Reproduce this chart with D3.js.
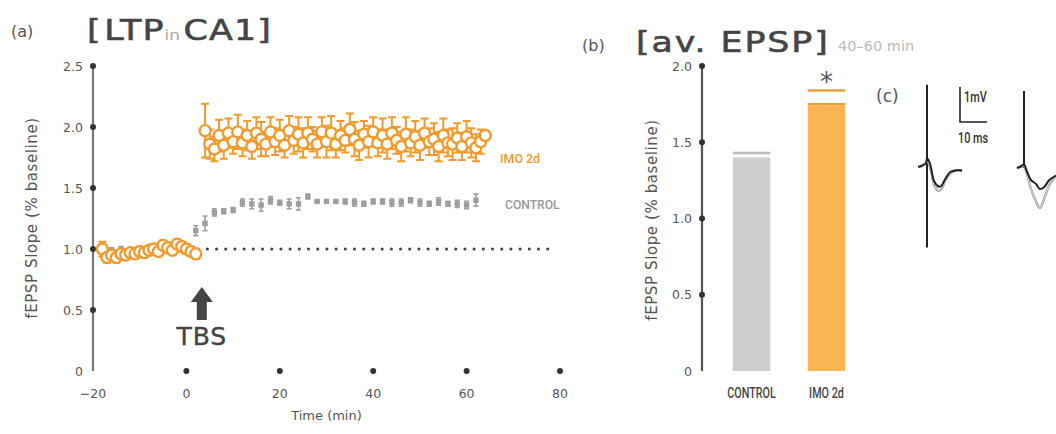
<!DOCTYPE html>
<html lang="en">
<head>
<meta charset="UTF-8">
<title>LTP in CA1</title>
<script src="https://d3js.org/d3.v7.min.js"></script>
<style>
  body { margin: 0; background: #fff; }
  svg { display: block; font-family: "DejaVu Sans", sans-serif; }
  .tick-label { font-size: 12.5px; fill: #555; }
  .narrow { font-family: "Roboto", "DejaVu Sans", sans-serif; font-weight: 500; }
</style>
</head>
<body>
<svg width="1056" height="434"></svg>
<script>
// ---- panel (a) data: time course ----
const imoBaseTime = d3.range(-18, 3);
const imoBaseVal = [1.0, 0.93, 0.95, 0.93, 0.96, 0.95, 0.97, 0.96, 0.98, 0.97, 0.99, 1.00, 0.98, 1.03, 1.01, 0.99, 1.04, 1.02, 1.00, 0.98, 0.96];
const imoBaseErr = [0.06, 0.04, 0.03, 0.04, 0.03, 0.03, 0.03, 0.04, 0.03, 0.03, 0.03, 0.04, 0.03, 0.04, 0.03, 0.03, 0.04, 0.03, 0.04, 0.03, 0.04];

const imoPostTime = d3.range(4, 65);
const imoPostVal = [1.97, 1.86, 1.82, 1.93, 1.85, 1.95, 1.88, 1.96, 1.87, 1.93, 1.84, 1.95, 1.90, 1.86, 1.96, 1.88,
  1.93, 1.85, 1.97, 1.89, 1.94, 1.87, 1.95, 1.90, 1.86, 1.96, 1.88, 1.95, 1.86, 1.93, 1.89, 1.98, 1.90, 1.85, 1.94,
  1.88, 1.96, 1.87, 1.93, 1.86, 1.95, 1.89, 1.84, 1.94, 1.87, 1.92, 1.85, 1.95, 1.88, 1.90, 1.84, 1.93, 1.87, 1.86,
  1.91, 1.84, 1.92, 1.87, 1.83, 1.88, 1.93];
const imoPostErr = [0.22, 0.12, 0.10, 0.13, 0.11, 0.12, 0.10, 0.14, 0.11, 0.12, 0.10, 0.13, 0.14, 0.10, 0.12, 0.11,
  0.13, 0.10, 0.12, 0.11, 0.14, 0.12, 0.13, 0.10, 0.11, 0.12, 0.13, 0.14, 0.11, 0.12, 0.10, 0.13, 0.14, 0.12, 0.11,
  0.13, 0.12, 0.11, 0.14, 0.12, 0.13, 0.11, 0.12, 0.14, 0.11, 0.13, 0.12, 0.12, 0.11, 0.13, 0.12, 0.14, 0.11, 0.13,
  0.12, 0.11, 0.13, 0.12, 0.11, 0.10, 0.0];

const ctlBaseTime = d3.range(-18, 1, 2);
const ctlBaseVal = [1.01, 0.99, 1.00, 0.98, 1.00, 1.01, 0.99, 1.01, 1.00, 1.00];
const ctlPostTime = d3.range(2, 63, 2);
const ctlPostVal = [1.15, 1.21, 1.30, 1.31, 1.32, 1.38, 1.37, 1.36, 1.40, 1.38, 1.37, 1.37, 1.43, 1.39, 1.39, 1.39,
  1.39, 1.38, 1.37, 1.39, 1.39, 1.38, 1.38, 1.40, 1.38, 1.37, 1.39, 1.37, 1.37, 1.36, 1.40];
const ctlPostErr = [0.04, 0.06, 0.03, 0.02, 0.02, 0.03, 0.04, 0.05, 0.03, 0.02, 0.04, 0.05, 0.02, 0.01, 0.01, 0.01,
  0.02, 0.03, 0.02, 0.02, 0.02, 0.03, 0.03, 0.02, 0.03, 0.02, 0.03, 0.02, 0.03, 0.03, 0.05];

const xTicksA = [-20, 0, 20, 40, 60, 80];
const yTicksA = [0, 0.5, 1.0, 1.5, 2.0, 2.5];

// ---- panel (b) data: average 40-60 min ----
const barGroups = ["CONTROL", "IMO 2d"];
const barValues = [1.40, 1.74];
const barErr = [0.03, 0.01];
const yTicksB = [0, 0.5, 1.0, 1.5, 2.0];
const sigLevel = 1.84;

// ---- panel (c) data: example traces (ms, mV) ----
const tr1a = [[-3.3, 0], [-1.9, 0.04], [-0.4, 0.1], [0, 0.26], [1.1, 0.1], [2.6, -0.4], [4.1, -0.55], [5.2, -0.55], [6.7, -0.35], [8.5, -0.15], [10.4, -0.1], [13, -0.1]];
const tr1b = [[-3.3, 0], [-1.9, 0.02], [0, 0.15], [1.1, 0.0], [2.6, -0.5], [4.1, -0.68], [5.2, -0.65], [6.7, -0.4], [8.5, -0.2], [10.4, -0.1], [13, -0.1]];
const tr2a = [[-2.6, 0], [-1.1, 0.05], [0, 0.1], [1.1, -0.1], [2.6, -0.35], [4.4, -0.45], [5.9, -0.6], [7.4, -0.55], [9.3, -0.35], [11.1, -0.25], [12.6, -0.2]];
const tr2b = [[-2.6, 0], [-1.1, 0.03], [0, 0.05], [1.1, -0.2], [2.6, -0.6], [4.4, -0.95], [5.9, -1.15], [7.4, -0.9], [9.3, -0.5], [11.1, -0.3], [12.6, -0.2]];
const artifact1 = [2.35, -2.3];
const artifact2 = [2.2, 0];

const orange = "#f39a2c";
const gray = "#9e9e9e";
const dark = "#454545";

const svg = d3.select("svg");

// ================= panel (a) =================
const x = d3.scaleLinear().domain([-20, 80]).range([93, 560]);
const y = d3.scaleLinear().domain([0, 2.5]).range([371, 66]);

svg.append("text").attr("x", 11).attr("y", 37).attr("font-size", 16).attr("fill", "#555").text("(a)");
const ta = svg.append("text").attr("transform", "translate(87,40) scale(1.2,1)").attr("font-size", 29)
  .attr("letter-spacing", 1).attr("stroke", dark).attr("stroke-width", 0.6).attr("fill", dark);
ta.append("tspan").text("[");
ta.append("tspan").attr("dx", 2).text("LTP");
ta.append("tspan").attr("font-size", 14).attr("letter-spacing", 0).attr("stroke", "none").attr("fill", "#aaa").text("in");
ta.append("tspan").attr("dx", 3).text("CA1]");

// y axis
svg.append("line").attr("x1", x(-20)).attr("x2", x(-20)).attr("y1", y(2.5)).attr("y2", y(0))
  .attr("stroke", "#777").attr("stroke-width", 2.2);
svg.selectAll(".ytA").data(yTicksA.filter(d => d > 0)).enter().append("circle")
  .attr("cx", x(-20)).attr("cy", d => y(d)).attr("r", 3).attr("fill", "#333");
svg.selectAll(".ylA").data(yTicksA).enter().append("text")
  .attr("class", "tick-label").attr("x", x(-20) - 10).attr("y", d => y(d) + 4.5)
  .attr("text-anchor", "end").text(d => d === 0 ? "0" : d.toFixed(1));

// x "axis": dots only
svg.selectAll(".xtA").data(xTicksA.filter(d => d > -20)).enter().append("circle")
  .attr("cx", d => x(d)).attr("cy", y(0)).attr("r", 3).attr("fill", "#333");
svg.selectAll(".xlA").data(xTicksA).enter().append("text")
  .attr("class", "tick-label").attr("x", d => x(d)).attr("y", 398)
  .attr("text-anchor", "middle").attr("font-size", 14).text(d => d < 0 ? "\u2212" + Math.abs(d) : d);
svg.append("text").attr("x", x(30)).attr("y", 420)
  .attr("text-anchor", "middle").attr("font-size", 13).attr("fill", "#555").text("Time (min)");

svg.append("text").attr("transform", "translate(37,218) rotate(-90)")
  .attr("text-anchor", "middle").attr("font-size", 15).attr("letter-spacing", 0.6).attr("fill", "#555")
  .text("fEPSP Slope (% baseline)");

// dotted 1.0 reference line
svg.append("line").attr("x1", x(2.5)).attr("x2", x(78)).attr("y1", y(1)).attr("y2", y(1))
  .attr("stroke", "#444").attr("stroke-width", 3).attr("stroke-linecap", "round")
  .attr("stroke-dasharray", "0.1,9.1");

// control series (squares with error bars)
const ctl = ctlBaseTime.map((t, i) => ({ t: t, v: ctlBaseVal[i], e: 0.02 }))
  .concat(ctlPostTime.map((t, i) => ({ t: t, v: ctlPostVal[i], e: ctlPostErr[i] })));
const gCtl = svg.append("g");
gCtl.selectAll("path.err").data(ctl).enter().append("path")
  .attr("d", d => `M${x(d.t) - 2.5},${y(d.v + d.e)}H${x(d.t) + 2.5}M${x(d.t)},${y(d.v + d.e)}V${y(d.v - d.e)}M${x(d.t) - 2.5},${y(d.v - d.e)}H${x(d.t) + 2.5}`)
  .attr("stroke", gray).attr("stroke-width", 1.6).attr("fill", "none");
gCtl.selectAll("rect").data(ctl).enter().append("rect")
  .attr("x", d => x(d.t) - 2.7).attr("y", d => y(d.v) - 2.7).attr("width", 5.4).attr("height", 5.4)
  .attr("fill", gray);

// IMO series (open circles with error bars)
const imo = imoBaseTime.map((t, i) => ({ t: t, v: imoBaseVal[i], e: imoBaseErr[i] }))
  .concat(imoPostTime.map((t, i) => ({ t: t, v: imoPostVal[i], e: imoPostErr[i] })));
const gImo = svg.append("g");
gImo.selectAll("path").data(imo).enter().append("path")
  .attr("d", d => `M${x(d.t) - 4},${y(d.v + d.e)}H${x(d.t) + 4}M${x(d.t)},${y(d.v + d.e)}V${y(d.v - d.e)}M${x(d.t) - 4},${y(d.v - d.e)}H${x(d.t) + 4}`)
  .attr("stroke", orange).attr("stroke-width", 2).attr("fill", "none");
gImo.selectAll("circle").data(imo).enter().append("circle")
  .attr("cx", d => x(d.t)).attr("cy", d => y(d.v)).attr("r", 5.5)
  .attr("fill", "#fff").attr("stroke", orange).attr("stroke-width", 2.4);

// legend labels
svg.append("text").attr("class", "narrow").attr("transform", "translate(500,163) scale(0.92,1)")
  .attr("font-size", 13.5).attr("fill", orange).text("IMO 2d");
svg.append("text").attr("class", "narrow").attr("transform", "translate(505,209) scale(0.9,1)")
  .attr("font-size", 13.5).attr("fill", "#999").text("CONTROL");

// TBS arrow
const ax = x(3.3);
svg.append("path")
  .attr("d", `M${ax},287 L${ax + 11},302 L${ax + 5},302 L${ax + 5},320 L${ax - 5},320 L${ax - 5},302 L${ax - 11},302 Z`)
  .attr("fill", dark);
svg.append("text").attr("x", ax).attr("y", 345).attr("text-anchor", "middle")
  .attr("font-size", 25).attr("letter-spacing", 1).attr("stroke", dark).attr("stroke-width", 0.4)
  .attr("fill", dark).text("TBS");

// ================= panel (b) =================
const yb = d3.scaleLinear().domain([0, 2.0]).range([371, 66]);
const xb = d3.scaleBand().domain(barGroups).range([714, 864]).paddingInner(0.5).paddingOuter(0.25);

svg.append("text").attr("x", 582).attr("y", 51).attr("font-size", 16).attr("fill", "#555").text("(b)");
svg.append("text").attr("transform", "translate(636,52) scale(1.2,1)").attr("font-size", 29)
  .attr("letter-spacing", 1.6).attr("stroke", dark).attr("stroke-width", 0.6).attr("fill", dark)
  .text("[av. EPSP]");
svg.append("text").attr("x", 838).attr("y", 51).attr("font-size", 14.5).attr("fill", "#bbb").text("40\u201360 min");

svg.append("line").attr("x1", 702).attr("x2", 702).attr("y1", yb(2)).attr("y2", yb(0))
  .attr("stroke", "#555").attr("stroke-width", 2.2);
svg.selectAll(".ytB").data(yTicksB.filter(d => d > 0)).enter().append("circle")
  .attr("cx", 702).attr("cy", d => yb(d)).attr("r", 3).attr("fill", "#333");
svg.selectAll(".ylB").data(yTicksB).enter().append("text")
  .attr("class", "tick-label").attr("x", 692).attr("y", d => yb(d) + 4.5)
  .attr("text-anchor", "end").text(d => d === 0 ? "0" : d.toFixed(1));
svg.append("text").attr("transform", "translate(657,220) rotate(-90)")
  .attr("text-anchor", "middle").attr("font-size", 15).attr("letter-spacing", 0.6).attr("fill", "#555")
  .text("fEPSP Slope (% baseline)");

const barFill = ["#cfcdcf", "#fbb453"];
const barEdge = ["#e2e0e2", "#f29a2e"];
svg.selectAll("rect.bar").data(barGroups).enter().append("rect")
  .attr("x", d => xb(d)).attr("width", xb.bandwidth())
  .attr("y", (d, i) => yb(barValues[i])).attr("height", (d, i) => yb(0) - yb(barValues[i]))
  .attr("fill", (d, i) => barFill[i]);
svg.selectAll("line.cap").data(barGroups).enter().append("line")
  .attr("x1", d => xb(d)).attr("x2", d => xb(d) + xb.bandwidth())
  .attr("y1", (d, i) => yb(barValues[i] + barErr[i])).attr("y2", (d, i) => yb(barValues[i] + barErr[i]))
  .attr("stroke", (d, i) => i === 0 ? "#bdbbbd" : barEdge[i]).attr("stroke-width", 2.5);
svg.selectAll("text.cat").data(barGroups).enter().append("text")
  .attr("class", "narrow")
  .attr("transform", d => `translate(${xb(d) + xb.bandwidth() / 2},398) scale(0.72,1)`)
  .attr("text-anchor", "middle").attr("font-size", 15).attr("fill", "#444").text(d => d);

// significance
const sx = xb("IMO 2d");
svg.append("line").attr("x1", sx).attr("x2", sx + xb.bandwidth()).attr("y1", yb(sigLevel)).attr("y2", yb(sigLevel))
  .attr("stroke", "#e9a040").attr("stroke-width", 2.5);
svg.append("text").attr("x", sx + xb.bandwidth() / 2).attr("y", 91).attr("text-anchor", "middle")
  .attr("font-size", 26).attr("fill", "#555").text("*");

// ================= panel (c) =================
svg.append("text").attr("x", 876).attr("y", 102).attr("font-size", 17).attr("fill", "#555").text("(c)");
const ms = d3.scaleLinear().domain([0, 10]).range([0, 27]);
const mv = d3.scaleLinear().domain([0, 1]).range([0, -35]);
const line = d3.line().x(d => ms(d[0])).y(d => mv(d[1])).curve(d3.curveCatmullRom);

function trace(ox, oy, a, b, art) {
  const g = svg.append("g").attr("transform", `translate(${ox},${oy})`);
  g.append("line").attr("x1", 0).attr("x2", 0).attr("y1", mv(art[0])).attr("y2", mv(art[1]))
    .attr("stroke", "#222").attr("stroke-width", 2);
  g.append("path").attr("d", line(b)).attr("fill", "none").attr("stroke", "#888").attr("stroke-width", 2.2);
  g.append("path").attr("d", line(b)).attr("fill", "none").attr("stroke", "#fff").attr("stroke-width", 0.8);
  g.append("path").attr("d", line(a)).attr("fill", "none").attr("stroke", "#222").attr("stroke-width", 2);
}
trace(927, 167, tr1a, tr1b, artifact1);
trace(1024, 168, tr2a, tr2b, artifact2);

// scale bar
svg.append("path").attr("d", `M960,${122 + mv(1)}V122H${960 + ms(10)}`)
  .attr("fill", "none").attr("stroke", "#222").attr("stroke-width", 1.6);
svg.append("text").attr("class", "narrow").attr("transform", "translate(964,102) scale(0.78,1)")
  .attr("font-size", 14).attr("fill", "#333").text("1mV");
svg.append("text").attr("class", "narrow").attr("transform", "translate(958,143) scale(0.78,1)")
  .attr("font-size", 14).attr("fill", "#333").text("10 ms");
</script>
</body>
</html>
